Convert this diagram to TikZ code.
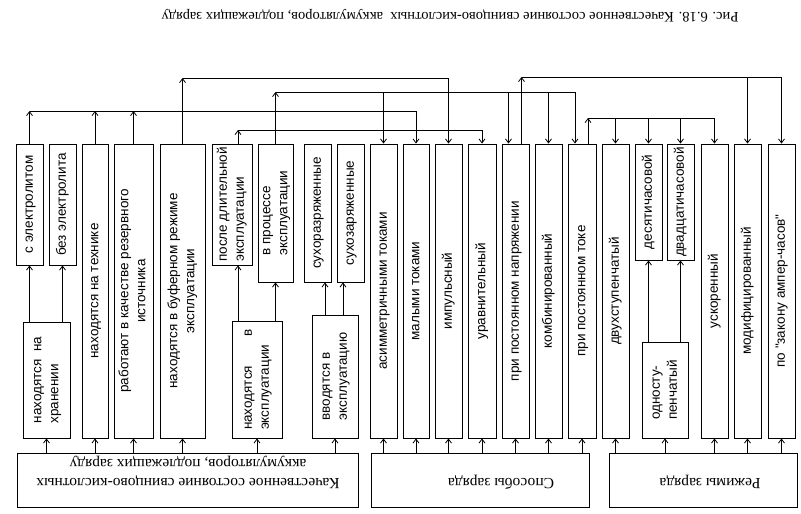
\documentclass[tikz,border=0pt]{standalone}
\usepackage{fontspec}
\setmainfont{Liberation Serif}
\newfontfamily\boxfont{Liberation Sans}
\usetikzlibrary{arrows.meta}
\newcommand\vtxt[2][c]{\rotatebox{90}{\begin{tabular}{@{}#1@{}}#2\end{tabular}}}
\tikzset{
  vbox/.style={draw, line width=0.9pt, inner sep=0pt, font=\boxfont\fontsize{13.5}{17}\selectfont},
  bbox/.style={draw, line width=0.9pt, inner sep=0pt},
  btxt/.style={rotate=180, align=center, inner sep=0pt, font=\fontsize{15.5}{19}\selectfont},
  link/.style={line width=0.8pt},
}
\begin{document}
\begin{tikzpicture}[x=1pt, y=-1pt, >={Straight Barb[length=4pt,width=6pt]}]
\useasboundingbox (0,0) rectangle (801,514);
\node[btxt, font=\fontsize{14.5}{17}\selectfont] (title) at (450,16) {Рис. 6.18. Качественное состояние свинцово-кислотных\ \ аккумуляторов, подлежащих заряду};
% upper row of boxes
\node[vbox, minimum width=27pt, minimum height=121pt] (ce) at (29.5,204.5) {\vtxt{с электролитом}};
\node[vbox, minimum width=27pt, minimum height=121pt] (be) at (62.5,204.5) {\vtxt{без электролита}};
\node[vbox, minimum width=26pt, minimum height=294pt] (tk) at (95,291) {\vtxt{находятся на технике}};
\node[vbox, minimum width=39pt, minimum height=294pt] (rz) at (133.5,291) {\vtxt{работают в качестве резервного\\источника}};
\node[vbox, minimum width=45pt, minimum height=294pt] (bf) at (182.5,291) {\vtxt{находятся в буферном режиме\\эксплуатации}};
\node[vbox, minimum width=40pt, minimum height=121pt] (pd) at (232,204.5) {\vtxt[l]{после длительной\\эксплуатации}};
\node[vbox, minimum width=35pt, minimum height=138pt] (vp) at (275.5,213) {\vtxt[l]{в процессе\\эксплуатации}};
\node[vbox, minimum width=27pt, minimum height=138pt] (sr) at (317.5,213) {\vtxt{сухоразряженные}};
\node[vbox, minimum width=27pt, minimum height=138pt] (sz) at (350.5,213) {\vtxt{сухозаряженные}};
\node[vbox, minimum width=27pt, minimum height=294pt] (as) at (383.5,291) {\vtxt{асимметричными токами}};
\node[vbox, minimum width=26pt, minimum height=294pt] (mt) at (416,291) {\vtxt{малыми токами}};
\node[vbox, minimum width=27pt, minimum height=294pt] (im) at (448.5,291) {\vtxt{импульсный}};
\node[vbox, minimum width=28pt, minimum height=294pt] (ur) at (482,291) {\vtxt{уравнительный}};
\node[vbox, minimum width=27pt, minimum height=294pt] (pn) at (515.5,291) {\vtxt{при постоянном напряжении}};
\node[vbox, minimum width=27pt, minimum height=294pt] (km) at (548.5,291) {\vtxt{комбинированный}};
\node[vbox, minimum width=28pt, minimum height=294pt] (pt) at (582,291) {\vtxt{при постоянном токе}};
\node[vbox, minimum width=27pt, minimum height=294pt] (ds) at (615.5,291) {\vtxt{двухступенчатый}};
\node[vbox, minimum width=27pt, minimum height=116pt] (dc) at (648.5,202) {\vtxt{десятичасовой}};
\node[vbox, minimum width=27pt, minimum height=116pt] (dv) at (680.5,202) {\vtxt{двадцатичасовой}};
\node[vbox, minimum width=27pt, minimum height=294pt] (us) at (714.5,291) {\vtxt{ускоренный}};
\node[vbox, minimum width=27pt, minimum height=294pt] (md) at (747.5,291) {\vtxt{модифицированный}};
\node[vbox, minimum width=27pt, minimum height=294pt] (za) at (781.5,291) {\vtxt{по "закону ампер-часов"}};
% lower small boxes
\node[vbox, minimum width=47pt, minimum height=116pt] (hr) at (46.5,380) {\vtxt[l]{находятся\ \ на\\хранении}};
\node[vbox, minimum width=50pt, minimum height=117pt] (ex) at (257,379.5) {\vtxt[l]{находятся\hspace{2.2em}в\\эксплуатации}};
\node[vbox, minimum width=46pt, minimum height=123pt] (vv) at (335,376.5) {\vtxt[l]{вводятся в\\эксплуатацию}};
\node[vbox, minimum width=46pt, minimum height=96pt] (os) at (665,390) {\vtxt[l]{односту-\\пенчатый}};
% bottom boxes
\node[bbox, minimum width=341pt, minimum height=54pt] (A) at (187.5,480) {};
\node[bbox, minimum width=218pt, minimum height=54pt] (B) at (480,480) {};
\node[bbox, minimum width=188pt, minimum height=54pt] (C) at (703,480) {};
\node[btxt] (At) at (188,472) {Качественное состояние свинцово-кислотных\\аккумуляторов, подлежащих заряду};
\node[btxt] (Bt) at (501,482) {Способы заряда};
\node[btxt] (Ct) at (710,482) {Режимы заряда};
% bus levels and shifted ends
\coordinate (bus1) at (0,111);
\coordinate (bus2) at (0,78);
\coordinate (bus3) at (0,92);
\coordinate (bus4) at (0,77);
\coordinate (bus5) at (0,130);
\coordinate (bus6) at (0,118);
\coordinate (pnin) at ([xshift=-7pt]pn.north);
\coordinate (pnout) at ([xshift=6pt]pn.north);
\coordinate (ptin) at ([xshift=-7pt]pt.north);
\coordinate (ptout) at ([xshift=6pt]pt.north);
\coordinate (pdout) at ([xshift=6pt]pd.north);
\coordinate (pdin) at ([xshift=6pt]pd.south);
\coordinate (srin) at ([xshift=7.5pt]sr.south);
\coordinate (szin) at ([xshift=-7.5pt]sz.south);
% from bottom boxes
\foreach \n in {hr,tk,rz,bf,ex,vv} \draw[link,->] (A.north -| \n) -- (\n.south);
\foreach \n in {as,mt,im,ur,pn,km,pt} \draw[link,->] (B.north -| \n) -- (\n.south);
\foreach \n in {ds,os,us,md,za} \draw[link,->] (C.north -| \n) -- (\n.south);
% middle arrows
\draw[link,->] (hr.north -| ce) -- (ce.south);
\draw[link,->] (hr.north -| be) -- (be.south);
\draw[link,->] (ex.north -| pdin) -- (pdin);
\draw[link,->] (ex.north -| vp) -- (vp.south);
\draw[link,->] (vv.north -| srin) -- (srin);
\draw[link,->] (vv.north -| szin) -- (szin);
\draw[link,->] (os.north -| dc) -- (dc.south);
\draw[link,->] (os.north -| dv) -- (dv.south);
% upper links
\foreach \n in {ce,tk,rz} \draw[link,->] (\n.north) -- (\n.north |- bus1);
\draw[link,->] (ce.north |- bus1) -- (mt.north |- bus1) -- (mt.north);
\draw[link,->] (bf.north) -- (bf.north |- bus2);
\draw[link,->] (bf.north |- bus2) -- (im.north |- bus2) -- (im.north);
\draw[link,->] (vp.north) -- (vp.north |- bus3);
\draw[link,->] (vp.north |- bus3) -- (ptin |- bus3) -- (ptin);
\foreach \n in {as,km} \draw[link,->] (\n.north |- bus3) -- (\n.north);
\draw[link,->] (pnin |- bus3) -- (pnin);
\draw[link,->] (pnout) -- (pnout |- bus4);
\draw[link,->] (pnout |- bus4) -- (za.north |- bus4) -- (za.north);
\draw[link,->] (md.north |- bus4) -- (md.north);
\draw[link,->] (pdout) -- (pdout |- bus5);
\draw[link,->] (pdout |- bus5) -- (ur.north |- bus5) -- (ur.north);
\draw[link,->] (ptout) -- (ptout |- bus6);
\draw[link,->] (ptout |- bus6) -- (us.north |- bus6) -- (us.north);
\foreach \n in {ds,dc,dv} \draw[link,->] (\n.north |- bus6) -- (\n.north);
\end{tikzpicture}
\end{document}
